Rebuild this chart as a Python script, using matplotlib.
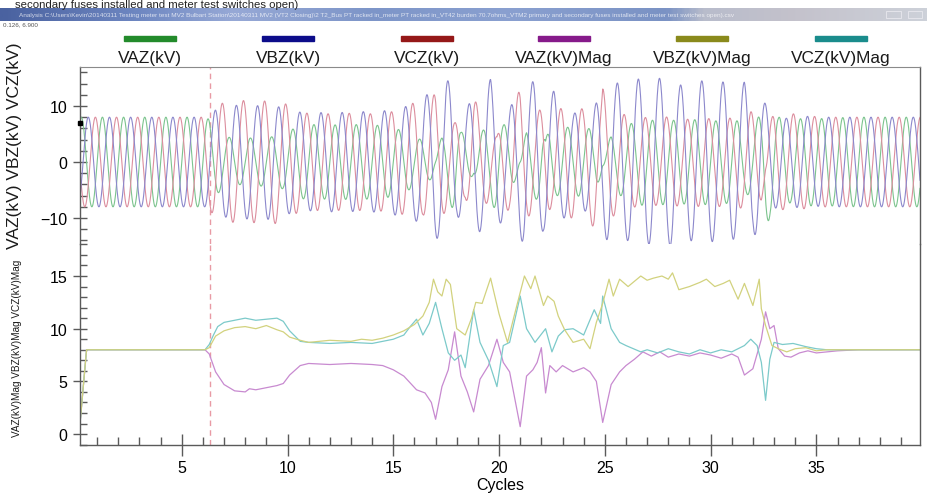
import numpy as np
import matplotlib
matplotlib.use("Agg")
import matplotlib.pyplot as plt
from matplotlib.colors import LinearSegmentedColormap
from matplotlib.ticker import MultipleLocator, FixedLocator

plt.rcParams['font.family'] = ['Liberation Sans', 'DejaVu Sans']

# ---------------- data ----------------
series_names = ["VAZ(kV)", "VBZ(kV)", "VCZ(kV)", "VAZ(kV)Mag", "VBZ(kV)Mag", "VCZ(kV)Mag"]
x_ticks = [5, 10, 15, 20, 25, 30, 35]
upper_yticks = [-10, 0, 10]
lower_yticks = [0, 5, 10, 15]
event_cycle = 6.33
cursor_value = 7.0

vaz_mag_t = [0.19, 0.5, 6.1, 6.3, 6.6, 7.0, 7.5, 8.0, 8.2, 8.5, 9.0, 9.5, 9.8, 10.1, 10.6, 11.0,
             12.0, 13.0, 14.0, 14.5, 15.0, 15.5, 16.1, 16.5, 16.8, 17.0, 17.3, 17.6, 17.9, 18.2,
             18.5, 18.8, 19.1, 19.5, 19.9, 20.2, 20.5, 21.0, 21.3, 21.6, 21.8, 22.0, 22.2, 22.4,
             22.7, 23.0, 23.5, 24.0, 24.3, 24.6, 24.9, 25.3, 25.7, 26.0, 26.4, 26.8, 27.2, 27.6,
             28.0, 28.5, 29.0, 29.5, 30.0, 30.5, 31.0, 31.3, 31.6, 32.0, 32.4, 32.6, 32.8, 33.0,
             33.2, 33.5, 33.8, 34.2, 34.6, 35.0, 35.5, 36.0, 37.0, 39.9]
vaz_mag = [1.0, 8.0, 8.0, 7.6, 5.9, 4.7, 4.1, 4.0, 4.3, 4.2, 4.4, 4.6, 4.8, 5.6, 6.5, 6.7,
           6.6, 6.7, 6.6, 6.5, 6.1, 5.5, 4.2, 3.9, 3.0, 1.4, 4.5, 6.1, 9.7, 5.5,
           4.0, 2.1, 5.2, 6.5, 9.0, 6.8, 5.9, 0.7, 5.5, 6.1, 6.8, 8.2, 3.9, 6.5,
           5.9, 6.5, 5.9, 6.3, 5.9, 5.0, 1.1, 4.7, 5.9, 6.5, 7.1, 7.8, 7.4, 7.8,
           7.3, 7.6, 7.4, 7.7, 7.5, 7.2, 7.6, 7.3, 5.6, 6.2, 9.0, 11.6, 10.0, 10.3,
           8.1, 7.4, 7.3, 7.7, 7.9, 7.7, 7.8, 7.9, 8.0, 8.0]

vbz_mag_t = [0.19, 0.5, 6.1, 6.3, 6.6, 7.0, 7.5, 8.0, 8.5, 9.0, 9.5, 9.8, 10.1, 10.6, 11.0,
             12.0, 13.0, 13.5, 14.0, 14.5, 15.0, 15.5, 16.0, 16.4, 16.7, 16.9, 17.1, 17.3, 17.5,
             17.7, 18.0, 18.4, 18.7, 18.9, 19.2, 19.6, 20.0, 20.4, 20.7, 21.2, 21.5, 21.7, 22.1,
             22.3, 22.6, 22.8, 23.1, 23.5, 24.0, 24.3, 24.6, 24.9, 25.2, 25.4, 25.7, 26.1, 26.4,
             26.7, 27.0, 27.3, 27.7, 28.0, 28.2, 28.5, 29.0, 29.5, 29.8, 30.2, 30.6, 30.9, 31.3,
             31.6, 32.0, 32.3, 32.4, 32.6, 32.9, 33.2, 33.6, 34.0, 34.5, 35.0, 35.5, 36.0, 39.9]
vbz_mag = [1.0, 8.0, 8.0, 8.2, 9.3, 9.8, 10.1, 10.2, 10.0, 10.3, 9.9, 9.7, 9.2, 8.9, 8.7,
           8.9, 8.8, 9.0, 8.9, 9.1, 9.4, 9.8, 10.4, 11.2, 12.5, 14.7, 13.5, 13.1, 14.7,
           14.2, 10.0, 9.4, 11.0, 12.5, 12.4, 14.8, 11.4, 8.7, 11.1, 15.0, 13.8, 15.0, 12.2,
           13.1, 12.6, 11.2, 9.9, 8.7, 9.0, 8.1, 10.6, 12.4, 14.7, 13.1, 14.7, 14.0, 14.5,
           15.0, 14.6, 14.8, 15.0, 14.7, 15.3, 13.7, 14.0, 14.4, 14.7, 14.0, 14.3, 14.6, 12.8,
           14.3, 12.2, 14.7, 11.9, 10.3, 8.4, 8.1, 7.8, 8.1, 8.2, 7.9, 8.0, 8.0, 8.0]

vcz_mag_t = [0.19, 0.5, 6.1, 6.3, 6.5, 6.7, 7.0, 7.5, 8.0, 8.5, 9.0, 9.5, 9.8, 10.1, 10.6, 11.0,
             12.0, 13.0, 14.0, 14.5, 15.0, 15.5, 15.8, 16.1, 16.4, 16.7, 17.0, 17.3, 17.6, 17.9,
             18.2, 18.4, 18.8, 19.1, 19.5, 19.9, 20.2, 20.5, 21.0, 21.3, 21.7, 22.2, 22.5, 22.8,
             23.1, 23.5, 24.0, 24.5, 24.8, 24.9, 25.3, 25.7, 26.0, 26.7, 27.0, 27.5, 28.0, 28.5,
             29.0, 29.5, 30.0, 30.5, 31.0, 31.6, 31.9, 32.2, 32.4, 32.6, 32.8, 33.0, 33.4, 33.9,
             34.5, 35.0, 35.5, 39.9]
vcz_mag = [1.0, 8.0, 8.0, 8.5, 9.4, 10.2, 10.6, 10.8, 11.0, 10.8, 10.9, 11.0, 10.7, 9.8, 8.8, 8.7,
           8.6, 8.7, 8.6, 8.8, 9.0, 9.4, 10.2, 10.9, 9.4, 10.5, 12.5, 10.0, 7.7, 7.0,
           7.5, 6.3, 11.8, 8.7, 7.0, 4.5, 8.4, 8.7, 13.1, 10.0, 8.7, 10.0, 7.8, 9.3,
           9.9, 10.0, 9.4, 11.8, 10.5, 13.1, 10.0, 8.7, 8.4, 7.8, 8.0, 7.7, 8.1, 7.8,
           7.6, 8.0, 7.7, 8.0, 7.8, 8.4, 9.0, 8.4, 6.8, 3.2, 7.1, 8.7, 8.5, 8.6,
           8.3, 8.1, 8.0, 8.0]

# phase angle (degrees) of each phase voltage
phase_deg = [0.0, -120.0, 120.0]

# ---------------- styling ----------------
wave_colors = ['#7cc48e', '#8c88cc', '#dc8e9e']
mag_colors = ['#c88ad0', '#d2d27e', '#7ccaca']
legend_colors = ['#238b2b', '#0c0c8a', '#951818', '#861a8a', '#8a8a1c', '#1a8c8c']
spine_col = '#5a5a5a'

W, H = 928, 502
fig = plt.figure(figsize=(W / 100, H / 100), dpi=100)

def fx(px):
    return px / W

def fy(py):
    return 1 - py / H

xmin, xmax = 0.19, 39.9
ax_l, ax_r = 80, 920
top_px, mid_px, bot_px = 68, 245, 446

ax1 = fig.add_axes([fx(ax_l), fy(mid_px), fx(ax_r - ax_l), (mid_px - top_px) / H])
ax2 = fig.add_axes([fx(ax_l), fy(bot_px), fx(ax_r - ax_l), (bot_px - mid_px) / H])
for a in (ax1, ax2):
    a.patch.set_alpha(0)
ax2.set_zorder(1)
ax1.set_zorder(2)

# ---------------- upper panel: instantaneous waveforms ----------------
t = np.linspace(xmin, xmax, 12000)
mag_sets = [(vaz_mag_t, vaz_mag), (vbz_mag_t, vbz_mag), (vcz_mag_t, vcz_mag)]
order = [0, 2, 1]
for i in order:
    mt, mv = mag_sets[i]
    amp = np.interp(t, mt[1:], mv[1:])
    wave = amp * np.sin(2 * np.pi * t + np.deg2rad(phase_deg[i]))
    ax1.plot(t, wave, color=wave_colors[i], lw=0.8)

ax1.set_xlim(xmin, xmax)
ax1.set_ylim(-14.64, 16.96)
ax1.yaxis.set_major_locator(FixedLocator(upper_yticks))
ax1.yaxis.set_minor_locator(MultipleLocator(2))
ax1.set_xticks([])
ax1.spines['bottom'].set_visible(False)
ax1.spines['top'].set_color('#8a8a8a')
ax1.plot([xmin], [cursor_value], marker='s', ms=3, color='black', clip_on=False, zorder=5)

# ---------------- lower panel: magnitudes ----------------
for i in [0, 2, 1]:
    mt, mv = mag_sets[i]
    ax2.plot(mt, mv, color=mag_colors[i], lw=0.9)

ax2.set_xlim(xmin, xmax)
ax2.set_ylim(-1.04, 18.04)
ax2.yaxis.set_major_locator(FixedLocator(lower_yticks))
ax2.yaxis.set_minor_locator(MultipleLocator(1))
ax2.xaxis.set_major_locator(FixedLocator(x_ticks))
ax2.xaxis.set_minor_locator(MultipleLocator(1))
ax2.spines['top'].set_visible(False)
ax2.set_xlabel("Cycles", fontsize=11.5, labelpad=1)

for a in (ax1, ax2):
    for s in ['left', 'right', 'bottom']:
        a.spines[s].set_color(spine_col)
        a.spines[s].set_linewidth(1.0)
    a.tick_params(axis='y', which='major', direction='inout', length=10, width=1,
                  color=spine_col, labelsize=11.5, pad=4)
    a.tick_params(axis='y', which='minor', direction='in', length=5, width=1, color=spine_col)
    a.tick_params(axis='y', which='both', right=False)
ax2.tick_params(axis='x', which='major', direction='inout', length=16, width=1,
                color=spine_col, labelsize=11.5, pad=3)
ax2.tick_params(axis='x', which='minor', direction='in', length=5.5, width=1, color=spine_col)

# event marker (dashed vertical line spanning both panels)
for a in (ax1, ax2):
    a.axvline(event_cycle, color='#e89aa4', lw=1.0, ls=(0, (4, 3)), zorder=0.5)

# y labels
fig.text(fx(15), fy(146), "VAZ(kV) VBZ(kV) VCZ(kV)", rotation=90, fontsize=12.5,
         ha='center', va='center', color='#1a1a1a')
fig.text(fx(17), fy(348), "VAZ(kV)Mag VBZ(kV)Mag VCZ(kV)Mag", rotation=90, fontsize=7.2,
         ha='center', va='center', color='#1a1a1a')

# legend (colored bars with names)
legend_cx = [150, 288, 427, 564, 702, 841]
for cx, name, col in zip(legend_cx, series_names, legend_colors):
    fig.patches.append(plt.Rectangle((fx(cx - 26), fy(42)), fx(52), 5 / H,
                                     transform=fig.transFigure, color=col, zorder=3))
    fig.text(fx(cx), fy(59), name, ha='center', va='center', fontsize=12.4, color='#1a1a1a')

# ---------------- window chrome ----------------
fig.text(fx(15), fy(7.5), "secondary fuses installed and meter test switches open)",
         fontsize=8.2, va='baseline', ha='left', color='#222222')

bar_ax = fig.add_axes([0, fy(21.5), 1, 12.5 / H])
bar_ax.set_axis_off()
cmap = LinearSegmentedColormap.from_list('tb', [
    (0.0, '#4a62a0'), (0.15, '#6f88c2'), (0.25, '#97a9d6'), (0.4, '#7d95c8'),
    (0.55, '#8aa0d0'), (0.72, '#7a92c4'), (0.76, '#b8bccb'), (0.86, '#c4c2cc'),
    (1.0, '#cdd1d9')])
bar_ax.imshow(np.linspace(0, 1, 400)[None, :], aspect='auto', cmap=cmap,
              extent=[0, 1, 0, 1])
bar_ax.set_xlim(0, 1)
bar_ax.set_ylim(0, 1)
bar_ax.text(0.02, 0.5,
            "Analysis C:\\Users\\Kevin\\20140311 Testing meter test MV2 Bulbart Station\\20140311 MV2 (VT2 Closing)\\2 T2_Bus PT racked in_meter PT racked in_VT42 burden 70.7ohms_VTM2 primary and secondary fuses installed and meter test switches open).csv",
            fontsize=4.6, color='white', alpha=0.75, va='center', ha='left')
for bx in [0.955, 0.978]:
    bar_ax.add_patch(plt.Rectangle((bx, 0.2), 0.016, 0.6, fill=False, ec='#e8e8ee', lw=0.6))

fig.text(fx(3), fy(25), "0.126, 6.900", fontsize=4.5, color='#555555', va='center', ha='left')

fig.savefig("out.png", dpi=100)
